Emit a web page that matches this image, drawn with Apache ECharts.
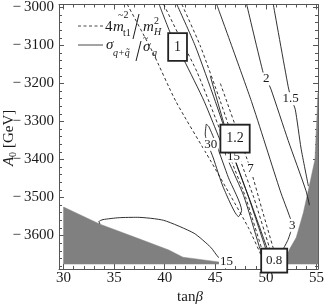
<!DOCTYPE html>
<html><head><meta charset="utf-8">
<script src="https://cdn.jsdelivr.net/npm/echarts@6/dist/echarts.min.js"></script>
<style>html,body{margin:0;padding:0;background:#fff}#c{width:327px;height:306px}</style>
</head><body><div id="c"></div>
<script>
// ---- axes ----
const xRange = [29.55, 55.15];
const yRange = [-3688, -2992];
const xMajor = [30, 35, 40, 45, 50, 55];
const yMajor = [-3000, -3100, -3200, -3300, -3400, -3500, -3600];
const xMinor = []; for (let v = 30; v <= 55; v += 1) xMinor.push(v);
const yMinor = []; for (let v = -3000; v >= -3680; v -= 20) yMinor.push(v);

// ---- shaded (excluded) regions ----
const grayLeft = [[30,-3525],[33.6,-3570],[37,-3604],[40.4,-3638],[41.8,-3657],[45.5,-3670],[45.5,-3675],[30,-3675]];
const grayRight = [[55.15,-3225],[54.85,-3400],[54.2,-3480],[53.7,-3540],[53.0,-3605],[52.4,-3633],[52.1,-3650],[52.0,-3675],[55.15,-3675]];

// ---- contour lines (tanβ, A0) ----
const dashA = [[36.3,-2992],[38.8,-3117],[41.1,-3247],[44.55,-3404],[46.5,-3495],[48.3,-3581],[49.65,-3659]];
const solidA = [[39.45,-2992],[40.6,-3070],[41.9,-3138],[43.9,-3247],[46.3,-3404],[47.8,-3495],[49.3,-3625],[49.7,-3660]];
const dashB = [[39.9,-2992],[41.9,-3100],[43.2,-3170],[45.0,-3290],[46.6,-3404],[48.0,-3500],[49.6,-3636]];
const solidB = [[41.2,-2992],[43.0,-3100],[45.0,-3247],[47.0,-3404],[48.3,-3500],[50.0,-3636]];
const dashC = [[41.7,-2992],[43.5,-3100],[45.5,-3247],[47.5,-3404],[48.8,-3500],[50.4,-3636]];
const solid15 = [[44.5,-3180],[46.8,-3391],[48.6,-3520],[50.2,-3640]];
const dash7 = [[45.5,-3200],[48.47,-3425],[49.6,-3530],[50.8,-3640]];
const loop30 = [[44.1,-3307],[44.0,-3333],[44.8,-3396],[45.8,-3474],[47.3,-3550],[47.6,-3534],[46.3,-3448],[45.1,-3360],[44.35,-3313],[44.1,-3307]];
const solid3 = [[45.14,-2992],[48.57,-3247],[51.41,-3482],[52.39,-3553],[52.6,-3573],[52.2,-3610],[51.7,-3636]];
const solid2 = [[48.1,-2992],[49.75,-3174],[50.04,-3188],[50.5,-3215],[52.2,-3350],[53.96,-3482],[54.3,-3520]];
const solid15b = [[50.73,-2992],[52.2,-3208],[52.5,-3240],[52.9,-3268],[53.47,-3370],[54.2,-3470]];
const solid15low = [[33.6,-3570],[33.5,-3563],[33.9,-3558],[35.5,-3553],[37.3,-3552],[39.9,-3560],[42.9,-3594],[44.55,-3631],[45.3,-3657],[46.0,-3670]];

// ---- labels ----
const lineLabels = [
  {name:'2', value:[50.04,-3188]}, {name:'1.5', value:[52.45,-3240]}, {name:'3', value:[52.6,-3573]},
  {name:'30', value:[44.55,-3360]}, {name:'15', value:[46.8,-3391]}, {name:'7', value:[48.47,-3425]},
  {name:'15', value:[46.1,-3669]}
];
const boxLabels = [
  {name:'1', value:[41.27,-3104]}, {name:'1.2', value:[46.95,-3345]}
];
const boxLabelBottom = [{name:'0.8', value:[50.82,-3666]}];

const FONT = '"Liberation Serif","Times New Roman",serif';
const INK = '#1a1a1a';

function axisX(pos, ticks, len, showLine, labels) {
  return {type:'value', position:pos, min:xRange[0], max:xRange[1], gridIndex:0,
    axisLine:{show:showLine, lineStyle:{color:'#555', width:1}},
    axisTick:{show:true, inside:true, length:len, customValues:ticks, lineStyle:{color:'#555', width:1}},
    axisLabel:labels ? {show:true, customValues:xMajor, color:INK, fontFamily:FONT, fontSize:15, margin:2} : {show:false},
    splitLine:{show:false}};
}
function axisY(pos, ticks, len, showLine, labels) {
  return {type:'value', position:pos, min:yRange[0], max:yRange[1], gridIndex:0,
    axisLine:{show:showLine, lineStyle:{color:'#555', width:1}},
    axisTick:{show:true, inside:true, length:len, customValues:ticks, lineStyle:{color:'#555', width:1}},
    axisLabel:labels ? {show:true, customValues:yMajor, color:INK, fontFamily:FONT, fontSize:15, margin:5,
      formatter:v => '\u2212\u2009' + Math.abs(v)} : {show:false},
    splitLine:{show:false}};
}

function line(data, dashed) {
  return {type:'line', data, xAxisIndex:0, yAxisIndex:0, showSymbol:false, symbol:'none', smooth:0.2,
    clip:true, silent:true, z:3,
    lineStyle:{color:INK, width:0.9, opacity:1, type: dashed ? [3,2.5] : 'solid'}};
}
function poly(points) {
  return {type:'custom', xAxisIndex:0, yAxisIndex:0, data:[0], clip:true, silent:true, z:2,
    renderItem:(params, api) => ({type:'polygon', shape:{points: points.map(p => api.coord(p))},
      style:{fill:'#808080', stroke:'#808080', lineWidth:0.5}})};
}
function labels(data, fontSize, extra, z) {
  return {type:'scatter', data, xAxisIndex:0, yAxisIndex:0, symbolSize:2, z, silent:true,
    itemStyle:{color:'rgba(0,0,0,0)', opacity:1},
    label:Object.assign({show:true, position:'inside', formatter:'{b}', color:INK, opacity:1, fontFamily:FONT,
      fontSize, backgroundColor:'#fff'}, extra)};
}

const chart = echarts.init(document.getElementById('c'), null, {renderer:'canvas'});
chart.setOption({
  animation:false,
  backgroundColor:'#fff',
  grid:{left:59, top:2, width:261, height:267, containLabel:false},
  xAxis:[axisX('bottom', xMajor, 5, true, true), axisX('bottom', xMinor, 3, false, false),
         axisX('top', xMajor, 5, true, false), axisX('top', xMinor, 3, false, false)],
  yAxis:[axisY('left', yMajor, 5, true, true), axisY('left', yMinor, 3, false, false),
         axisY('right', yMajor, 5, true, false), axisY('right', yMinor, 3, false, false)],
  series:[
    poly(grayLeft), poly(grayRight),
    line(dashA, true), line(solidA, false), line(dashB, true), line(solidB, false), line(dashC, true),
    line(solid15, false), line(dash7, true), line(loop30, false), line(solid3, false),
    line(solid2, false), line(solid15b, false), line(solid15low, false),
    labels(lineLabels, 13, {padding:[0,1]}, 5),
    labels(boxLabels, 14, {borderColor:'#222', borderWidth:1.8, padding:[6,5,6,5]}, 6),
    labels(boxLabelBottom, 13, {borderColor:'#222', borderWidth:1.8, padding:[6,4,3,4]}, 6)
  ],
  graphic:[
    // legend
    {type:'line', shape:{x1:78, y1:26, x2:103, y2:26}, style:{stroke:INK, lineWidth:0.8, lineDash:[3,2.5]}},
    {type:'line', shape:{x1:78, y1:45, x2:103, y2:45}, style:{stroke:INK, lineWidth:0.8}},
    {type:'text', x:105, y:27, style:{text:'4', font:'15px '+FONT, fill:INK, verticalAlign:'middle'}},
    {type:'text', x:113, y:27, style:{text:'m', font:'italic 15px '+FONT, fill:INK, verticalAlign:'middle'}},
    {type:'text', x:118, y:15, style:{text:'~2', font:'10px '+FONT, fill:INK, verticalAlign:'middle'}},
    {type:'text', x:123, y:33, style:{text:'t1', font:'10px '+FONT, fill:INK, verticalAlign:'middle'}},
    {type:'line', shape:{x1:139, y1:14, x2:133, y2:39}, style:{stroke:INK, lineWidth:1}},
    {type:'text', x:143, y:27, style:{text:'m', font:'italic 15px '+FONT, fill:INK, verticalAlign:'middle'}},
    {type:'text', x:154, y:21, style:{text:'2', font:'10px '+FONT, fill:INK, verticalAlign:'middle'}},
    {type:'text', x:154, y:32, style:{text:'H', font:'italic 10px '+FONT, fill:INK, verticalAlign:'middle'}},
    {type:'text', x:106, y:45, style:{text:'σ', font:'italic 15px '+FONT, fill:INK, verticalAlign:'middle'}},
    {type:'text', x:113, y:53, style:{text:'q+q\u0303', font:'italic 10px '+FONT, fill:INK, verticalAlign:'middle'}},
    {type:'line', shape:{x1:141, y1:41, x2:136, y2:61}, style:{stroke:INK, lineWidth:1}},
    {type:'text', x:143, y:47, style:{text:'σ', font:'italic 15px '+FONT, fill:INK, verticalAlign:'middle'}},
    {type:'text', x:143, y:38, style:{text:'~', font:'10px '+FONT, fill:INK, verticalAlign:'middle'}},
    {type:'text', x:152, y:53, style:{text:'q', font:'italic 10px '+FONT, fill:INK, verticalAlign:'middle'}},
    // y axis title
    {type:'group', x:9, y:136, rotation:Math.PI/2, children:[
      {type:'text', x:-30, y:0, style:{text:'A', font:'italic 15px '+FONT, fill:INK, verticalAlign:'middle'}},
      {type:'text', x:-21, y:4, style:{text:'0', font:'10px '+FONT, fill:INK, verticalAlign:'middle'}},
      {type:'text', x:-12, y:0, style:{text:'[GeV]', font:'15px '+FONT, fill:INK, verticalAlign:'middle'}}
    ]},
    // x axis title
    {type:'text', x:190, y:297, style:{text:'{a|tan}{b|β}', align:'center', verticalAlign:'middle',
      rich:{a:{font:'15px '+FONT, fill:INK}, b:{font:'italic 15px '+FONT, fill:INK}}}}
  ]
});
</script></body></html>
